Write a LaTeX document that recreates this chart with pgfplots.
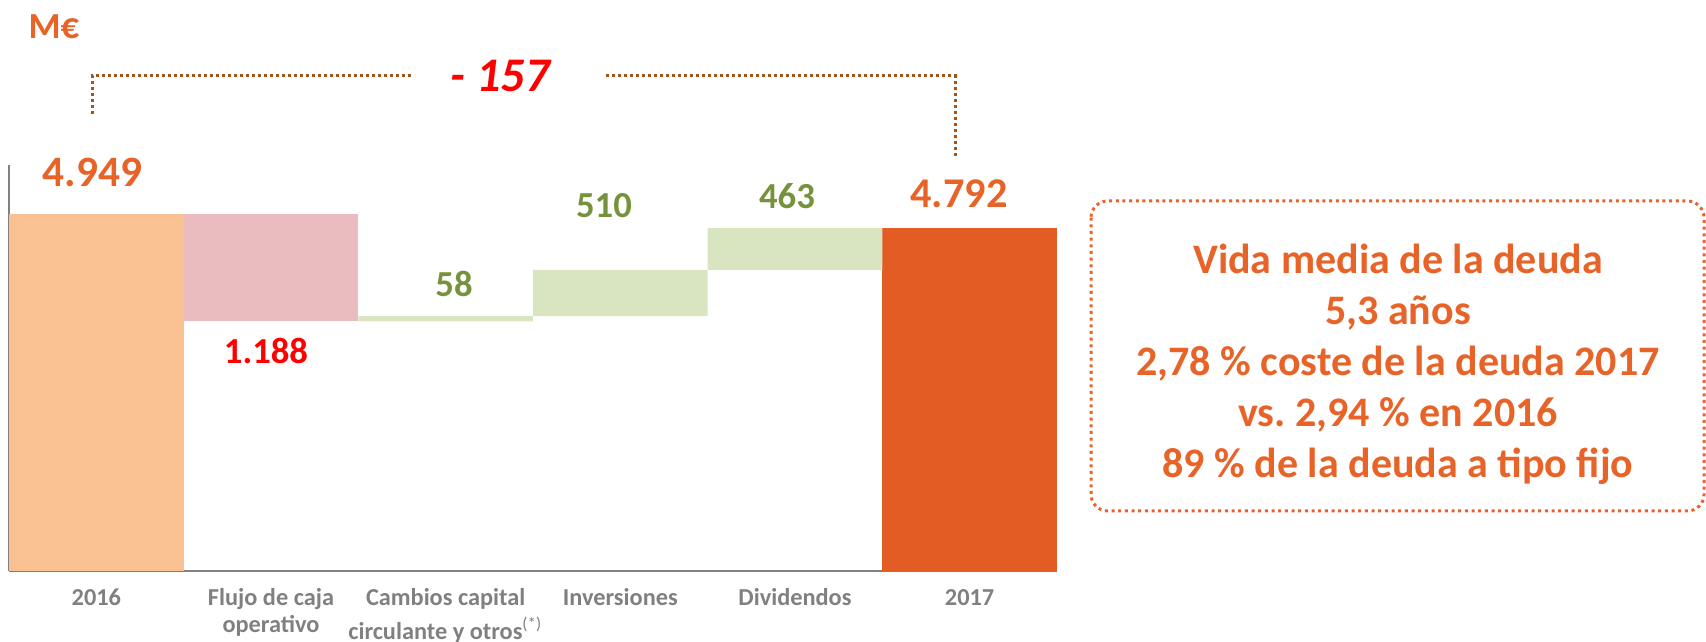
\documentclass[border=0pt]{standalone}
\usepackage{pgfplots}
\pgfplotsset{compat=1.18}
\usepackage{fontspec}
\setmainfont{Carlito}
\frenchspacing
\definecolor{cPeach}{RGB}{249,193,145}
\definecolor{cPink}{RGB}{234,188,191}
\definecolor{cGreen}{RGB}{216,229,192}
\definecolor{cOrange}{RGB}{226,92,36}
\definecolor{tOrange}{RGB}{232,99,40}
\definecolor{tGreen}{RGB}{118,146,60}
\definecolor{tGray}{RGB}{128,128,128}
\definecolor{cBrown}{RGB}{160,85,25}
\begin{document}
\begin{tikzpicture}
\begin{axis}[
  at={(0,0)}, anchor=south west,
  scale only axis, width=314.4pt, height=121.8pt,
  xmin=-0.5, xmax=5.5, ymin=1000, ymax=5490,
  ybar stacked, bar width=1,
  axis x line=bottom, axis y line=left,
  axis line style={-, draw=tGray, line width=0.8pt},
  xtick={0,1,2,3,4,5},
  xticklabels={{2016},{Flujo de caja\\operativo},{Cambios capital\\circulante y otros\textsuperscript{\mdseries(*)}},{Inversiones},{Dividendos},{2017}},
  xticklabel style={align=center, font=\fontsize{7.3}{8.2}\selectfont\bfseries, text=tGray, anchor=north, inner sep=0pt, yshift=-4.4pt},
  typeset ticklabels with strut,
  ytick=\empty,
  major tick length=0pt,
  clip=false,
]
\addplot[draw=none, fill=none] coordinates {(0,1000) (1,3761) (2,3761) (3,3819) (4,4329) (5,1000)};
\addplot[draw=none, fill=cPeach] coordinates {(0,3949) (1,0) (2,0) (3,0) (4,0) (5,0)};
\addplot[draw=none, fill=cPink] coordinates {(0,0) (1,1188) (2,0) (3,0) (4,0) (5,0)};
\addplot[draw=none, fill=cGreen] coordinates {(0,0) (1,0) (2,58) (3,510) (4,463) (5,0)};
\addplot[draw=none, fill=cOrange] coordinates {(0,0) (1,0) (2,0) (3,0) (4,0) (5,3792)};
\end{axis}
\begin{scope}[x=0.3pt,y=-0.3pt,xshift=-2.7pt,yshift=171.3pt]
\node[text=tOrange, font=\fontsize{11}{13}\selectfont\bfseries] at (54,27) {M€};
\node[text=red, font=\fontsize{14.5}{17}\selectfont\bfseries\itshape] at (500,76) {- 157};
\draw[cBrown, line width=0.9pt, dash pattern=on 0.9pt off 0.9pt] (92,114) -- (92,76) -- (411,76);
\draw[cBrown, line width=0.9pt, dash pattern=on 0.9pt off 0.9pt] (606,76) -- (955,76) -- (955,158);
\node[text=tOrange, font=\fontsize{13}{15}\selectfont\bfseries] at (92.5,172) {4.949};
\node[text=red, font=\fontsize{11}{13}\selectfont\bfseries] at (266,351) {1.188};
\node[text=tGreen, font=\fontsize{11}{13}\selectfont\bfseries] at (454,284) {58};
\node[text=tGreen, font=\fontsize{11}{13}\selectfont\bfseries] at (604,206) {510};
\node[text=tGreen, font=\fontsize{11}{13}\selectfont\bfseries] at (787,196) {463};
\node[text=tOrange, font=\fontsize{12.7}{15}\selectfont\bfseries] at (959,194) {4.792};
\draw[tOrange, line width=0.9pt, dash pattern=on 0.9pt off 1.1pt, rounded corners=5pt] (1091,201) rectangle (1704,511);
\begin{scope}[every node/.style={text=tOrange, font=\fontsize{12.6}{15}\selectfont\bfseries, anchor=base}]
\node at (1398,274) {Vida media de la deuda};
\node at (1398,325) {5,3 años};
\node at (1398,376) {2,78 \% coste de la deuda 2017};
\node at (1398,427) {vs. 2,94 \% en 2016};
\node at (1398,478) {89 \% de la deuda a tipo fijo};
\end{scope}
\pgfresetboundingbox
\path[use as bounding box] (0,0) rectangle (1706,642);
\end{scope}
\end{tikzpicture}
\end{document}
